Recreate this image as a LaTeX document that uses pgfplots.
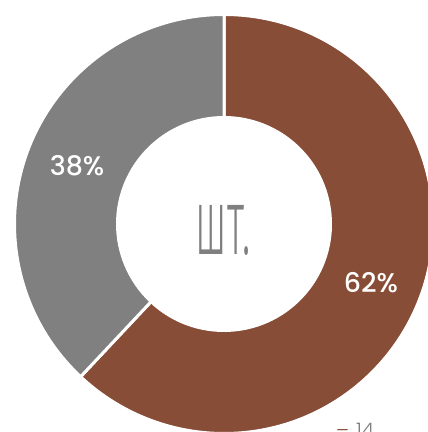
\documentclass[border=0pt]{standalone}
\usepackage{pgfplots}
\pgfplotsset{compat=1.18}
\usepackage{graphicx}
\usepackage{fontspec}
\setmainfont{Poppins}[UprightFont={* Medium}]
\newfontfamily\cyrfont{Fira Sans}[UprightFont={* Light}]
\newfontfamily\lightfont{Poppins}[UprightFont={* Light}]
\definecolor{brownc}{RGB}{135,77,55}
\definecolor{grayc}{RGB}{128,128,128}
\definecolor{textgray}{RGB}{127,127,127}
% data (percent)
\def\valA{62}
\def\valB{38}
\pgfmathsetmacro\angS{90}
\pgfmathsetmacro\angA{90-3.6*\valA}
\pgfmathsetmacro\angB{\angA-3.6*\valB}
\pgfmathsetmacro\midA{(\angS+\angA)/2}
\pgfmathsetmacro\midB{(\angA+\angB)/2}
\def\Ro{209.5bp}
\def\Ri{106.5bp}
\begin{document}
\begin{tikzpicture}
\path[use as bounding box] (0,0) rectangle (428bp,432bp);
\clip (0,0) rectangle (428bp,432bp);
\begin{axis}[at={(0,0)}, anchor=south west, width=428bp, height=432bp,
  scale only axis, hide axis, clip=false,
  xmin=-224, xmax=204, ymin=-208, ymax=224]
\begin{scope}[shift={(axis cs:0,0)}]
\fill[brownc, draw=white, line width=3bp, line join=miter]
  (\angS:\Ro) arc[start angle=\angS, end angle=\angA, radius=\Ro]
  -- (\angA:\Ri) arc[start angle=\angA, end angle=\angS, radius=\Ri] -- cycle;
\fill[grayc, draw=white, line width=3bp, line join=miter]
  (\angA:\Ro) arc[start angle=\angA, end angle=\angB, radius=\Ro]
  -- (\angB:\Ri) arc[start angle=\angB, end angle=\angA, radius=\Ri] -- cycle;
\node[text=white, font=\fontsize{27}{27}\selectfont] at (\midA:158bp) {\valA\%};
\node[text=white, font=\fontsize{27}{27}\selectfont] at (\midB:158bp) {\valB\%};
\end{scope}
\node[text=textgray] at (axis cs:-1,-6.5) {\scalebox{0.64}[1.52]{\cyrfont\fontsize{62}{62}\selectfont шт.}};
\node[anchor=base west, inner sep=0, font=\lightfont\fontsize{20}{20}\selectfont] at (axis cs:112,-213) {\textcolor{brownc}{–}\hspace{7bp}\textcolor{textgray}{14}};
\end{axis}
\end{tikzpicture}
\end{document}
